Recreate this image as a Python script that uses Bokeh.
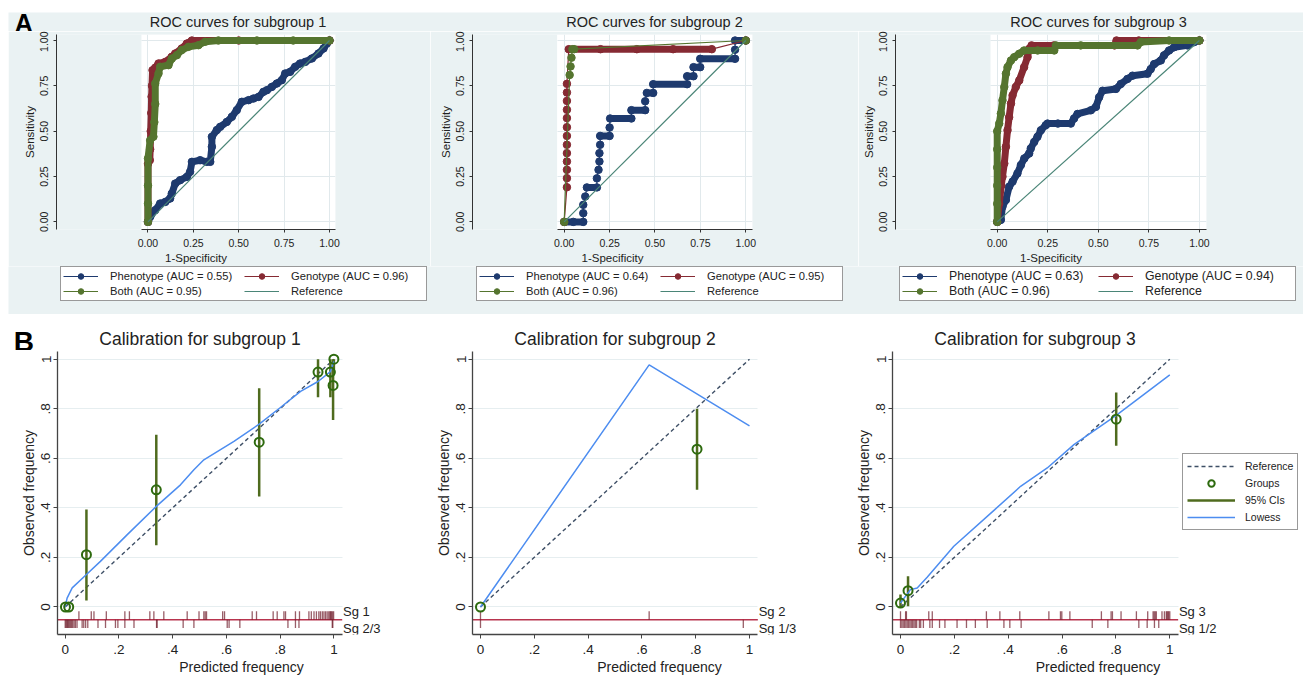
from bokeh.plotting import figure
from bokeh.layouts import row, column, Spacer
from bokeh.models import (Range1d, FixedTicker, PrintfTickFormatter, Legend, LegendItem,
                          Label, BoxAnnotation)
from bokeh.embed import file_html
from bokeh.resources import INLINE

FONT = "Liberation Sans"
BAND = "#eaf2f3"
C_PHEN = "#1e3a6e"
C_GEN = "#862a33"
C_BOTH = "#55752f"
C_REF = "#4a8577"
TXT = "#222222"

# ------------------------------------------------------------------ ROC data
roc_titles = ["ROC curves for subgroup 1", "ROC curves for subgroup 2", "ROC curves for subgroup 3"]
auc_phen = [0.55, 0.64, 0.63]
auc_gen = [0.96, 0.95, 0.94]
auc_both = [0.95, 0.96, 0.96]
roc_ticks = [0.0, 0.25, 0.5, 0.75, 1.0]
ref_x = [0.0, 1.0]
ref_y = [0.0, 1.0]

roc1_phen_x = [0.0, 0.012, 0.039, 0.067, 0.095, 0.122, 0.131, 0.150, 0.177, 0.214, 0.232, 0.242, 0.287, 0.324,
               0.343, 0.352, 0.352, 0.379, 0.398, 0.434, 0.462, 0.489, 0.517, 0.554, 0.581, 0.609, 0.636, 0.655,
               0.682, 0.710, 0.737, 0.756, 0.783, 0.811, 0.838, 0.866, 0.903, 0.939, 0.967, 0.985, 1.0]
roc1_phen_y = [0.0, 0.028, 0.064, 0.101, 0.110, 0.129, 0.156, 0.211, 0.230, 0.248, 0.276, 0.331, 0.340, 0.331,
               0.331, 0.414, 0.469, 0.506, 0.524, 0.551, 0.579, 0.616, 0.662, 0.671, 0.680, 0.689, 0.717, 0.726,
               0.744, 0.763, 0.781, 0.818, 0.827, 0.855, 0.873, 0.882, 0.901, 0.928, 0.956, 0.983, 1.0]
roc1_gen_x = [0.0, 0.0, 0.01, 0.012, 0.015, 0.018, 0.02, 0.022, 0.025, 0.04, 0.058, 0.095, 0.131, 0.150, 0.186,
              0.214, 0.242, 0.5, 1.0]
roc1_gen_y = [0.0, 0.32, 0.34, 0.40, 0.50, 0.60, 0.69, 0.75, 0.836, 0.85, 0.873, 0.882, 0.910, 0.928, 0.956,
              0.983, 1.0, 1.0, 1.0]
roc1_both_x = [0.0, 0.0, 0.0, 0.0, 0.012, 0.03, 0.035, 0.04, 0.04, 0.058, 0.067, 0.113, 0.131, 0.159, 0.186,
               0.223, 0.278, 0.315, 0.388, 0.6, 0.8, 1.0]
roc1_both_y = [0.0, 0.1, 0.2, 0.35, 0.45, 0.47, 0.55, 0.65, 0.763, 0.818, 0.855, 0.864, 0.900, 0.919, 0.947,
               0.965, 0.974, 0.993, 1.0, 1.0, 1.0, 1.0]

roc2_phen_x = [0.0, 0.05, 0.105, 0.105, 0.105, 0.116, 0.125, 0.18, 0.18, 0.189, 0.194, 0.194, 0.198, 0.198,
               0.25, 0.25, 0.253, 0.37, 0.37, 0.446, 0.446, 0.455, 0.49, 0.49, 0.677, 0.677, 0.712, 0.712,
               0.749, 0.749, 0.941, 0.941, 0.941, 1.0]
roc2_phen_y = [0.0, 0.0, 0.0, 0.048, 0.094, 0.14, 0.19, 0.19, 0.24, 0.287, 0.333, 0.379, 0.425, 0.474,
               0.474, 0.52, 0.57, 0.57, 0.616, 0.616, 0.665, 0.711, 0.711, 0.759, 0.759, 0.803, 0.803, 0.853,
               0.853, 0.899, 0.899, 0.949, 1.0, 1.0]
roc2_gen_x = [0.0, 0.015, 0.015, 0.015, 0.015, 0.015, 0.015, 0.015, 0.015, 0.015, 0.015, 0.015, 0.015, 0.015,
              0.025, 0.2, 0.4, 0.6, 0.813, 1.0]
roc2_gen_y = [0.0, 0.191, 0.241, 0.287, 0.333, 0.379, 0.425, 0.474, 0.522, 0.572, 0.618, 0.667, 0.713, 0.761,
              0.952, 0.952, 0.952, 0.952, 0.952, 1.0]
roc2_both_x = [0.0, 0.03, 0.035, 0.04, 0.045, 0.055, 1.0]
roc2_both_y = [0.0, 0.81, 0.857, 0.905, 0.952, 0.952, 1.0]
# runs of densely packed markers (start x, end x, level)
roc2_phen_runs = [(0.0, 0.105, 0.0), (0.125, 0.18, 0.19), (0.198, 0.25, 0.474), (0.253, 0.37, 0.57),
                  (0.37, 0.446, 0.616), (0.455, 0.49, 0.711), (0.49, 0.677, 0.759), (0.677, 0.712, 0.803),
                  (0.712, 0.749, 0.853), (0.749, 0.941, 0.899), (0.941, 1.0, 1.0)]
roc2_gen_runs = [(0.025, 0.813, 0.952)]

roc3_phen_x = [0.0, 0.018, 0.026, 0.043, 0.059, 0.076, 0.1, 0.117, 0.134, 0.158, 0.166, 0.183, 0.199, 0.216,
               0.24, 0.249, 0.30, 0.364, 0.38, 0.397, 0.463, 0.488, 0.504, 0.521, 0.587, 0.611, 0.644, 0.669,
               0.743, 0.759, 0.776, 0.809, 0.825, 0.85, 0.875, 0.941, 0.974, 1.0]
roc3_phen_y = [0.0, 0.011, 0.084, 0.121, 0.194, 0.222, 0.267, 0.313, 0.35, 0.377, 0.405, 0.441, 0.469, 0.505,
               0.533, 0.542, 0.542, 0.542, 0.57, 0.595, 0.615, 0.634, 0.687, 0.723, 0.733, 0.76, 0.788, 0.806,
               0.817, 0.842, 0.87, 0.89, 0.918, 0.945, 0.963, 0.973, 0.991, 1.0]
roc3_gen_x = [0.0, 0.01, 0.02, 0.026, 0.035, 0.043, 0.051, 0.059, 0.068, 0.076, 0.092, 0.109, 0.133, 0.15,
              0.158, 0.17, 0.28, 0.58, 0.59, 0.7, 1.0]
roc3_gen_y = [0.0, 0.1, 0.2, 0.249, 0.322, 0.414, 0.505, 0.577, 0.652, 0.698, 0.744, 0.78, 0.853, 0.908,
              0.954, 0.973, 0.973, 0.973, 1.0, 1.0, 1.0]
roc3_both_x = [0.0, 0.0, 0.0, 0.0, 0.0, 0.0, 0.01, 0.018, 0.026, 0.035, 0.043, 0.051, 0.068, 0.084, 0.109,
               0.133, 0.2, 0.282, 0.29, 0.413, 0.694, 0.71, 0.85, 1.0]
roc3_both_y = [0.0, 0.1, 0.2, 0.3, 0.4, 0.5, 0.542, 0.597, 0.67, 0.744, 0.817, 0.853, 0.89, 0.908, 0.927,
               0.945, 0.945, 0.945, 0.973, 0.973, 0.973, 0.991, 1.0, 1.0]

# ------------------------------------------------------------------ calibration data
cal_titles = ["Calibration for subgroup 1", "Calibration for subgroup 2", "Calibration for subgroup 3"]
cal_ticks = [0.0, 0.2, 0.4, 0.6, 0.8, 1.0]
cal_tick_labels = ["0", ".2", ".4", ".6", ".8", "1"]
sg_labels = [("Sg 1", "Sg 2/3"), ("Sg 2", "Sg 1/3"), ("Sg 3", "Sg 1/2")]

cal1_grp_x = [0.001, 0.013, 0.079, 0.339, 0.722, 0.941, 0.987, 1.0, 0.997]
cal1_grp_y = [0.0, 0.0, 0.211, 0.473, 0.665, 0.948, 0.948, 1.0, 0.894]
cal1_ci_lo = [0.0, 0.0, 0.026, 0.249, 0.446, 0.846, 0.846, 0.96, 0.755]
cal1_ci_hi = [0.0, 0.0, 0.393, 0.695, 0.883, 1.0, 1.0, 1.0, 1.0]
cal1_low_x = [0.0, 0.007, 0.026, 0.079, 0.131, 0.231, 0.339, 0.429, 0.479, 0.516, 0.628, 0.722, 0.801,
              0.876, 0.941, 0.987, 1.0]
cal1_low_y = [0.0, 0.036, 0.077, 0.131, 0.184, 0.292, 0.406, 0.493, 0.554, 0.594, 0.668, 0.738, 0.805,
              0.870, 0.910, 0.950, 0.991]
cal1_rug_above = [0.051, 0.097, 0.107, 0.153, 0.222, 0.239, 0.315, 0.330, 0.367, 0.454, 0.498, 0.516, 0.521,
                  0.526, 0.586, 0.593, 0.696, 0.712, 0.774, 0.789, 0.814, 0.820, 0.857, 0.872, 0.907, 0.916,
                  0.926, 0.935, 0.944, 0.950, 0.957, 0.963, 0.969, 0.975, 0.981, 0.985, 0.988, 0.991, 0.995, 0.999]
cal1_rug_below = [0.0, 0.003, 0.006, 0.009, 0.012, 0.016, 0.020, 0.024, 0.028, 0.033, 0.038, 0.044, 0.063,
                  0.069, 0.076, 0.084, 0.122, 0.150, 0.187, 0.196, 0.222, 0.256, 0.340, 0.342, 0.439, 0.479,
                  0.603, 0.610, 0.650, 0.829, 0.857, 0.870, 0.994, 0.996]

cal2_grp_x = [0.0, 0.805]
cal2_grp_y = [0.0, 0.637]
cal2_ci_lo = [0.0, 0.473]
cal2_ci_hi = [0.0, 0.80]
cal2_low_x = [0.0, 0.627, 1.0]
cal2_low_y = [0.0, 0.977, 0.731]
cal2_rug_above = [0.0, 0.627]
cal2_rug_below = [0.0, 0.977]

cal3_grp_x = [0.0, 0.028, 0.801]
cal3_grp_y = [0.016, 0.066, 0.758]
cal3_ci_lo = [0.0, 0.003, 0.651]
cal3_ci_hi = [0.05, 0.124, 0.866]
cal3_low_x = [0.0, 0.037, 0.062, 0.099, 0.198, 0.347, 0.446, 0.545, 0.644, 0.801, 1.0]
cal3_low_y = [0.016, 0.070, 0.077, 0.120, 0.245, 0.390, 0.487, 0.561, 0.655, 0.773, 0.937]
cal3_rug_above = [0.0, 0.019, 0.022, 0.105, 0.118, 0.319, 0.369, 0.443, 0.551, 0.594, 0.599, 0.629, 0.746,
                  0.782, 0.787, 0.819, 0.876, 0.918, 0.938, 0.942, 0.946, 0.950, 0.971, 0.980, 0.987, 0.990,
                  0.993, 0.996, 1.0]
cal3_rug_below = [0.0, 0.005, 0.010, 0.015, 0.020, 0.025, 0.030, 0.035, 0.040, 0.045, 0.050, 0.055, 0.060,
                  0.070, 0.075, 0.085, 0.109, 0.118, 0.145, 0.165, 0.210, 0.245, 0.278, 0.322, 0.384, 0.406,
                  0.448, 0.712, 0.770, 0.885, 0.916, 0.943, 0.959]


def style_axis(ax, tick_px, title_px, tick_out, lab_so, title_so, line_col):
    ax.major_tick_out = tick_out
    ax.major_tick_in = 0
    ax.minor_tick_out = 0
    ax.minor_tick_in = 0
    ax.major_label_standoff = lab_so
    ax.axis_label_standoff = title_so
    ax.major_label_text_font = FONT
    ax.major_label_text_font_size = tick_px
    ax.major_label_text_color = TXT
    ax.axis_label_text_font = FONT
    ax.axis_label_text_font_size = title_px
    ax.axis_label_text_font_style = "normal"
    ax.axis_label_text_color = TXT
    ax.axis_line_color = line_col
    ax.major_tick_line_color = line_col


def blank(width, height, x0, x1, y0, y1, bg):
    p = figure(width=width, height=height, min_border=0, x_axis_type=None, y_axis_type=None,
               x_range=Range1d(x0, x1), y_range=Range1d(y0, y1),
               output_backend="svg", toolbar_location=None,
               background_fill_color=bg, border_fill_color=bg, outline_line_color=None)
    return p


def put_text(p, x, y, txt, size, bold=False):
    p.add_layout(Label(x=x, y=y, text=txt, text_font=FONT, text_font_size=size,
                       text_font_style="bold" if bold else "normal",
                       text_color="black" if bold else TXT, text_align="center", text_baseline="middle"))


def roc_panel(geom, curves, runs):
    ml, fw, mr, x0, x1, wl = geom
    p = figure(frame_width=fw, frame_height=195, min_border_left=ml, min_border_right=mr,
               min_border_top=3, min_border_bottom=36,
               x_range=Range1d(x0, x1), y_range=Range1d(-0.042, 1.033),
               output_backend="svg", toolbar_location=None,
               background_fill_color=BAND, border_fill_color=BAND, outline_line_color=None)
    p.add_layout(BoxAnnotation(left=wl, right=x1, bottom=-0.042, top=1.033, fill_color="white",
                               fill_alpha=1.0, line_color=None, level="image"))
    for ax in (p.xaxis[0], p.yaxis[0]):
        ax.ticker = FixedTicker(ticks=roc_ticks)
        ax.formatter = PrintfTickFormatter(format="%.2f")
        style_axis(ax, "10.5px", "11.5px", 3, 5, 2, "#333333")
    p.xaxis.major_label_standoff = 6
    p.xaxis.axis_label_standoff = 2
    p.xaxis.bounds = (wl, x1)
    p.xaxis.axis_label = "1-Specificity"
    p.yaxis.axis_label = "Sensitivity"
    p.yaxis.major_label_orientation = "vertical"
    p.xgrid.ticker = FixedTicker(ticks=roc_ticks)
    p.ygrid.ticker = FixedTicker(ticks=roc_ticks)
    p.grid.grid_line_color = "#e1e9ec"
    p.ygrid.cross_bounds = (wl, x1)

    for (xs, ys, col), rr in zip(curves, runs):
        if rr is None:
            p.line(xs, ys, line_width=7, color=col, line_join="round", line_cap="round")
        elif rr:
            p.segment(x0=[r[0] for r in rr], y0=[r[2] for r in rr], x1=[r[1] for r in rr],
                      y1=[r[2] for r in rr], line_width=7, color=col, line_cap="round")
        p.line(xs, ys, line_width=1.2, color=col)
        p.scatter(xs, ys, size=7.5, color=col)
    p.line(ref_x, ref_y, line_width=1.2, color=C_REF)
    return p


AX_LO, AX_HI = -0.028, 1.031


def cal_panel(geom, grp, ci, low, rug, sg, with_legend):
    ml, fw, mr, x0, x1 = geom
    gx, gy = grp
    lo, hi = ci
    lx, ly = low
    above, below = rug
    p = figure(frame_width=fw, frame_height=283, min_border_left=ml, min_border_right=mr,
               min_border_top=1, min_border_bottom=42,
               x_range=Range1d(x0, x1), y_range=Range1d(-0.111, 1.031),
               output_backend="svg", toolbar_location=None,
               background_fill_color="white", border_fill_color="white", outline_line_color=None)
    overrides = dict(zip(cal_ticks, cal_tick_labels))
    for ax in (p.xaxis[0], p.yaxis[0]):
        ax.ticker = FixedTicker(ticks=cal_ticks)
        ax.major_label_overrides = overrides
        style_axis(ax, "13.5px", "14px", 4, 3, 3, "#444444")
        ax.axis_line_width = 1.3
    p.xaxis.major_label_standoff = 6
    p.xaxis.axis_label_standoff = 2
    p.yaxis.axis_label_standoff = 2
    p.xaxis.bounds = (AX_LO, AX_HI)
    p.xaxis.axis_label = "Predicted frequency"
    p.yaxis.axis_label = "Observed frequency"
    p.yaxis.major_label_orientation = "vertical"
    p.xgrid.visible = False
    p.ygrid.ticker = FixedTicker(ticks=cal_ticks)
    p.ygrid.grid_line_color = "#e6eef0"
    p.ygrid.cross_bounds = (AX_LO, AX_HI)

    # rug
    p.segment(x0=[AX_LO], y0=[-0.051], x1=[AX_HI], y1=[-0.051], color="#b8344e", line_width=1.5)
    p.segment(x0=above, y0=[-0.051] * len(above), x1=above, y1=[-0.017] * len(above),
              color="#6e1a28", alpha=0.7, line_width=1.3)
    p.segment(x0=below, y0=[-0.051] * len(below), x1=below, y1=[-0.085] * len(below),
              color="#6e1a28", alpha=0.7, line_width=1.3)
    for yy, txt in zip([-0.017, -0.086], sg):
        p.add_layout(Label(x=AX_HI + 0.003, y=yy, text=txt, text_font=FONT, text_font_size="13px",
                           text_color=TXT, text_align="left", text_baseline="middle"))

    r_ref = p.line(ref_x, ref_y, color="#3e4f66", line_width=1.4, line_dash="4 3")
    r_ci = p.segment(x0=gx, y0=lo, x1=gx, y1=hi, color="#4f6b1e", line_width=2.5)
    r_low = p.line(lx, ly, color="#4d8df0", line_width=1.5)
    r_grp = p.scatter(gx, gy, size=9, fill_color=None, line_color="#2d6a0e", line_width=2)
    if with_legend:
        leg = Legend(items=[LegendItem(label="Reference", renderers=[r_ref]),
                            LegendItem(label="Groups", renderers=[r_grp]),
                            LegendItem(label="95% CIs", renderers=[r_ci]),
                            LegendItem(label="Lowess", renderers=[r_low])],
                     location=(290, 104), orientation="vertical",
                     glyph_width=48, glyph_height=16, label_height=16, label_standoff=10,
                     spacing=1, padding=4, margin=0, border_line_color="#333333", border_line_width=1,
                     background_fill_color="white", background_fill_alpha=1.0,
                     label_text_font=FONT, label_text_font_size="10.5px", label_text_color=TXT)
        p.add_layout(leg)
    return p


# ------------------------------------------------------------------ build: ROC row
r1 = roc_panel((48, 279, 95, -0.504, 1.033, -0.036),
               [(roc1_phen_x, roc1_phen_y, C_PHEN), (roc1_gen_x, roc1_gen_y, C_GEN),
                (roc1_both_x, roc1_both_y, C_BOTH)], [None, None, None])
r2 = roc_panel((42, 280, 106, -0.505, 1.037, -0.039),
               [(roc2_phen_x, roc2_phen_y, C_PHEN), (roc2_gen_x, roc2_gen_y, C_GEN),
                (roc2_both_x, roc2_both_y, C_BOTH)], [roc2_phen_runs, roc2_gen_runs, []])
r3 = roc_panel((37, 311, 97, -0.503, 1.035, -0.033),
               [(roc3_phen_x, roc3_phen_y, C_PHEN), (roc3_gen_x, roc3_gen_y, C_GEN),
                (roc3_both_x, roc3_both_y, C_BOTH)], [None, None, None])

# header strip above ROC panels (panel letter + titles), page-pixel coordinates
hdr_top = blank(1295, 19, 8, 1303, 31, 12, BAND)
put_text(hdr_top, 23.3, 22.3, "A", "25px", bold=True)
for cx, t in zip([237.5, 654.0, 1098.0], roc_titles):
    put_text(hdr_top, cx, 21.0, t, "14.5px")

# legend strip below ROC panels; its key glyphs come from renderers of the same curves,
# which fall outside this strip's pixel ranges and so are not drawn in it
leg_strip = blank(1295, 48, 8, 1303, 313, 265, BAND)
k_phen = [leg_strip.line(roc1_phen_x, roc1_phen_y, line_width=1.2, color=C_PHEN),
          leg_strip.scatter(roc1_phen_x, roc1_phen_y, size=7.5, color=C_PHEN)]
k_gen = [leg_strip.line(roc1_gen_x, roc1_gen_y, line_width=1.2, color=C_GEN),
         leg_strip.scatter(roc1_gen_x, roc1_gen_y, size=7.5, color=C_GEN)]
k_both = [leg_strip.line(roc1_both_x, roc1_both_y, line_width=1.2, color=C_BOTH),
          leg_strip.scatter(roc1_both_x, roc1_both_y, size=7.5, color=C_BOTH)]
k_ref = [leg_strip.line(ref_x, ref_y, line_width=1.2, color=C_REF)]
for k, (vx, lw, fs) in enumerate([(52, 133, "11.2px"), (468, 133, "11.2px"), (891, 148, "12.3px")]):
    leg = Legend(items=[LegendItem(label="Phenotype (AUC = %.2f)" % auc_phen[k], renderers=k_phen),
                        LegendItem(label="Genotype (AUC = %.2f)" % auc_gen[k], renderers=k_gen),
                        LegendItem(label="Both (AUC = %.2f)" % auc_both[k], renderers=k_both),
                        LegendItem(label="Reference", renderers=k_ref)],
                 location=(vx, 13), orientation="horizontal", ncols=2,
                 glyph_width=35, glyph_height=14, label_height=14, label_width=lw, label_standoff=12,
                 spacing=1, padding=2, margin=0, border_line_color="#333333", border_line_width=1,
                 background_fill_color="white", background_fill_alpha=1.0,
                 label_text_font=FONT, label_text_font_size=fs, label_text_color=TXT)
    leg_strip.add_layout(leg)

# ------------------------------------------------------------------ build: calibration row
hdr_bot = blank(1303, 36, 0, 1303, 349, 313, "white")
put_text(hdr_bot, 23.3, 340.3, "B", "28px", bold=True)
for cx, t in zip([199.5, 614.5, 1034.5], cal_titles):
    put_text(hdr_bot, cx, 337.0, t, "17.5px")

c1 = cal_panel((57, 368, 5, -0.0287, 1.341), (cal1_grp_x, cal1_grp_y), (cal1_ci_lo, cal1_ci_hi),
               (cal1_low_x, cal1_low_y), (cal1_rug_above, cal1_rug_below), sg_labels[0], False)
c2 = cal_panel((42, 374, 5, -0.0297, 1.3606), (cal2_grp_x, cal2_grp_y), (cal2_ci_lo, cal2_ci_hi),
               (cal2_low_x, cal2_low_y), (cal2_rug_above, cal2_rug_below), sg_labels[1], False)
c3 = cal_panel((41, 411, 0, -0.0297, 1.4965), (cal3_grp_x, cal3_grp_y), (cal3_ci_lo, cal3_ci_hi),
               (cal3_low_x, cal3_low_y), (cal3_rug_above, cal3_rug_below), sg_labels[2], True)

layout = column(Spacer(width=1303, height=12),
                row(Spacer(width=8, height=19), hdr_top),
                row(Spacer(width=8, height=234), r1, r2, r3),
                row(Spacer(width=8, height=48), leg_strip),
                hdr_bot,
                row(c1, c2, c3))
open("out.html", "w").write(file_html(layout, INLINE))
